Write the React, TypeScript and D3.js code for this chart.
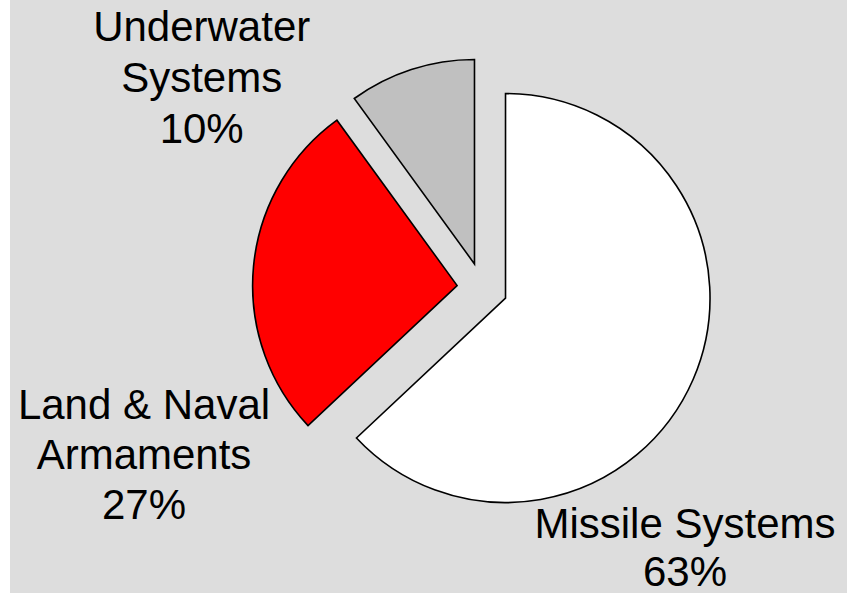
import React from "react";
import * as d3 from "d3";

const categories = ["Missile Systems", "Land & Naval Armaments", "Underwater Systems"];
const values = [63, 27, 10];
const labelLines = [["Missile Systems", "63%"], ["Land & Naval", "Armaments", "27%"], ["Underwater", "Systems", "10%"]];
const colors = ["#FFFFFF", "#FF0000", "#C0C0C0"];

// layout constants
const W = 857, H = 593;
const CX = 482.3, CY = 288, R = 204.5, EXPLODE = 25.3;
const FONT = 42;
// label block anchors (center x, first baseline y, line spacing)
const labelAnchors: [number, number, number][] = [[685, 538, 48], [144, 418.5, 50], [201.7, 40.7, 51]];

export default function App() {
  const pie = d3.pie<number>().sort(null).startAngle(0).endAngle(2 * Math.PI);
  const arcs = pie(values);
  const arc = d3.arc<d3.PieArcDatum<number>>().innerRadius(0).outerRadius(R);
  return (
    <svg width={W} height={H} style={{ position: "absolute", left: 0, top: 0 }}>
      <rect x={10} y={0} width={837} height={H} fill="#DDDDDD" />
      {arcs.map((a, i) => {
        const mid = (a.startAngle + a.endAngle) / 2;
        const dx = Math.sin(mid) * EXPLODE;
        const dy = -Math.cos(mid) * EXPLODE;
        return (
          <path
            key={categories[i]}
            d={arc(a) || ""}
            transform={`translate(${CX + dx},${CY + dy})`}
            fill={colors[i]}
            stroke="#000"
            strokeWidth={1.6}
            strokeLinejoin="miter"
          />
        );
      })}
      {labelLines.map((lines, i) => (
        <text
          key={"l" + i}
          textAnchor="middle"
          fontFamily="'Liberation Sans', Arial, sans-serif"
          fontSize={FONT}
          fill="#000"
        >
          {lines.map((t, j) => (
            <tspan key={j} x={labelAnchors[i][0]} y={labelAnchors[i][1] + j * labelAnchors[i][2]}>
              {t}
            </tspan>
          ))}
        </text>
      ))}
    </svg>
  );
}
